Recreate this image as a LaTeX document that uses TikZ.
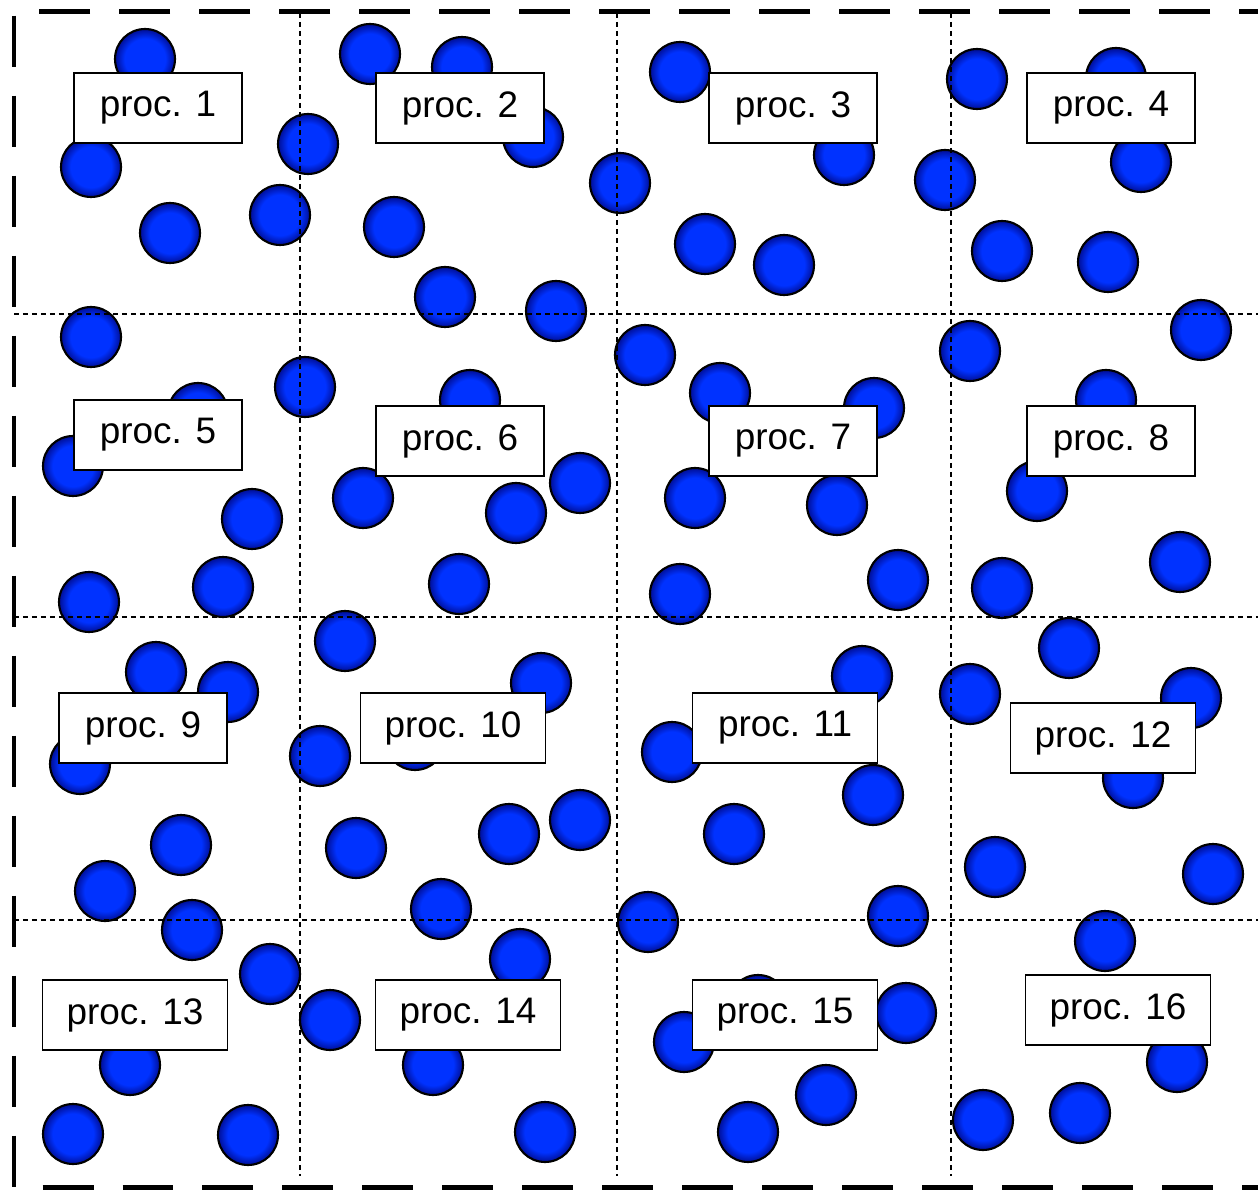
\documentclass[tikz,border=0pt]{standalone}
\usepackage{fontspec}
\setmainfont{Liberation Sans}
\usepackage{tikz}
\usetikzlibrary{positioning}
\definecolor{PartBlue}{RGB}{0,50,255}
\definecolor{PartDark}{RGB}{0,14,150}
\pgfdeclareradialshading{partshade}{\pgfpoint{0bp}{0bp}}{%
    color(0bp)=(PartBlue); color(17bp)=(PartBlue); color(25bp)=(PartDark); color(50bp)=(PartDark)}
\tikzset{
    % Particle and label styles
    particle/.style={
        circle,
        draw=black,
        line width=1.2pt,
        shading=partshade,
        minimum size=1.2cm,
        inner sep=0pt
    },
    procbox/.style={
        rectangle,
        draw=black,
        fill=white,
        line width=0.8pt,
        minimum width=3.36cm,
        minimum height=1.4cm,
        inner sep=0pt,
        text centered,
        font=\fontsize{21}{25}\selectfont
    },
    widebox/.style={
        procbox,
        minimum width=3.7cm
    },
    % Line styles
    gridline/.style={
        draw=black,
        line width=0.8pt,
        dash pattern=on 0.11cm off 0.07cm
    },
    frameline/.style={
        draw=black,
        line width=0.1cm,
        dash pattern=on 1.02cm off 0.58cm
    }
}

\begin{document}
\begin{tikzpicture}[x=0.02cm, y=-0.02cm]
                \useasboundingbox (0,0) rectangle (1258,1192);
                \clip (0,0) rectangle (1258,1192);
                \fill[white] (0,0) rectangle (1258,1192);

                % Particles
                \foreach \x/\y [count=\i] in {
                    145/59, 91/167, 170/233, 280/215, 308/144,
                    370/54, 462/67, 533/137, 394/227, 445/297, 556/311, 620/183,
                    680/72, 844/155, 705/244, 784/265, 945/180,
                    977/79, 1116/78, 1141/162, 1002/251, 1108/262, 1201/330,
                    91/337, 198/413, 73/466, 305/387, 252/519, 89/602, 223/587,
                    363/498, 470/400, 516/513, 580/483, 459/584, 345/641,
                    645/355, 720/393, 874/408, 695/498, 837/505, 680/594, 898/580,
                    970/351, 1106/400, 1037/491, 1180/562, 1002/588, 1069/648,
                    156/672, 228/692, 80/764, 181/845, 105/891, 192/930,
                    320/756, 415/740, 541/683, 356/848, 509/834, 580/820, 441/909,
                    672/752, 862/676, 873/795, 734/834, 648/922, 898/916,
                    970/694, 1191/698, 1133/778, 995/867, 1213/874, 1105/941,
                    270/974, 130/1065, 73/1134, 248/1135,
                    330/1020, 520/959, 433/1065, 545/1132,
                    684/1042, 758/1005, 906/1013, 826/1095, 748/1132,
                    1177/1062, 983/1120, 1080/1113}
                    \node[particle] (p\i) at (\x,\y) {};

                % Processor grid
                \foreach \gx in {300, 617, 951}
                    \draw[gridline] (\gx,13) -- (\gx,1176);
                \foreach \gy in {314, 617, 920}
                    \draw[gridline] (14,\gy) -- (1258,\gy);

                % Domain boundary
                \draw[frameline] (1290,12) -- (14,12) -- (14,1187) -- (1290,1187);

                % Processor labels
                \node[procbox] (proc1) at (158,108) {proc. 1};
                \node[procbox] (proc2) at (460,108) {proc. 2};
                \node[procbox] (proc3) at (793,108) {proc. 3};
                \node[procbox] (proc4) at (1111,108) {proc. 4};
                \node[procbox] (proc5) at (158,435) {proc. 5};
                \node[procbox] (proc6) at (460,441) {proc. 6};
                \node[procbox] (proc7) at (793,441) {proc. 7};
                \node[procbox] (proc8) at (1111,441) {proc. 8};
                \node[procbox] (proc9) at (143,728) {proc. 9};
                \node[widebox] (proc10) at (453,728) {proc. 10};
                \node[widebox] (proc11) at (785,728) {proc. 11};
                \node[widebox] (proc12) at (1103,738) {proc. 12};
                \node[widebox] (proc13) at (135,1015) {proc. 13};
                \node[widebox] (proc14) at (468,1015) {proc. 14};
                \node[widebox] (proc15) at (785,1015) {proc. 15};
                \node[widebox] (proc16) at (1118,1010) {proc. 16};
            \end{tikzpicture}
\end{document}
